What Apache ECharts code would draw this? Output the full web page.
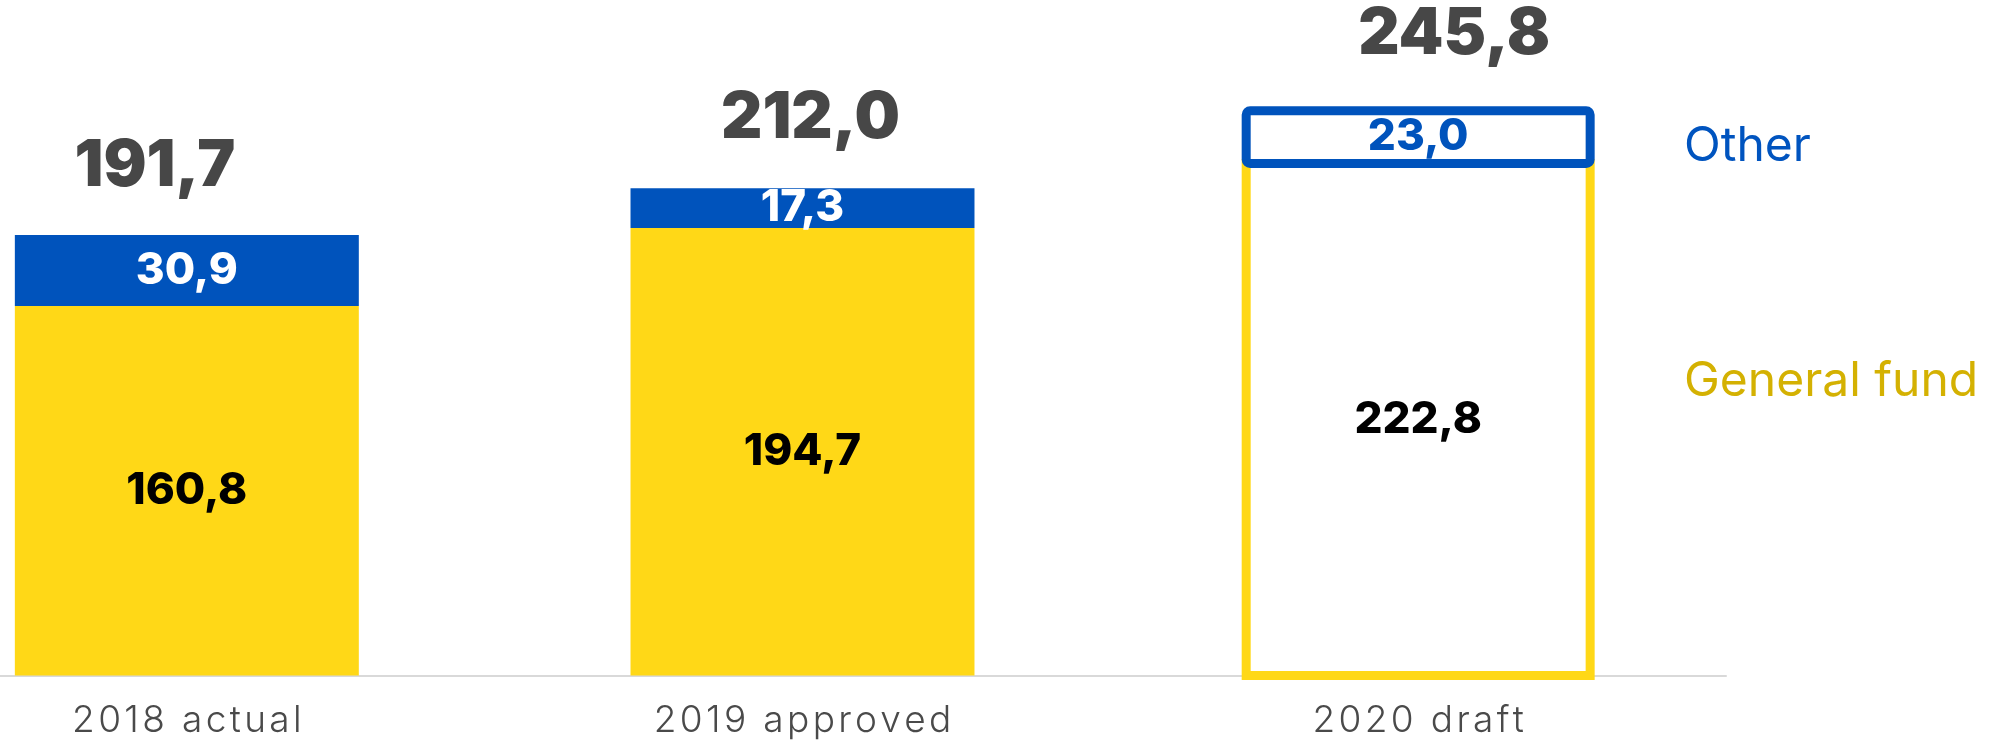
<!DOCTYPE html>
<html>
<head>
<meta charset="utf-8">
<title>Budget</title>
<script src="https://cdn.jsdelivr.net/npm/echarts@6/dist/echarts.min.js"></script>
<style>
  html, body { margin: 0; padding: 0; background: #fff; }
  #chart { width: 2006px; height: 748px; }
</style>
</head>
<body>
<div id="chart"></div>
<script>
  var categories = ['2018 actual', '2019 approved', '2020 draft'];
  var generalFund = [160.8, 194.7, 222.8];
  var other = [30.9, 17.3, 23.0];
  var totals = [191.7, 212.0, 245.8];

  // the last column is a draft: drawn as outlines only
  var DRAFT = categories.length - 1;
  var BAR_RATIO = 0.5587;
  var YELLOW = '#FFD817';
  var BLUE = '#0053BC';
  var FONT = 'Inter, "Open Sans", sans-serif';

  // little nudges of the total labels, like in the original slide
  var totalShiftX = [-32, 8, 36];
  var totalLift = [68, 70, 76];

  function fmt(v) {
    return v.toFixed(1).replace('.', ',');
  }

  var fundData = [], otherData = [], totalData = [];
  for (var i = 0; i < categories.length; i++) {
    fundData.push([i, 0, generalFund[i]]);
    otherData.push([i, generalFund[i], generalFund[i] + other[i]]);
    totalData.push([i, totals[i]]);
  }

  function segment(color, labelColor, draftLabelColor, radius) {
    return function (params, api) {
      var idx = params.dataIndex;
      var p0 = api.coord([idx, api.value(1)]);
      var p1 = api.coord([idx, api.value(2)]);
      var w = api.size([1, 0])[0] * BAR_RATIO;
      var draft = idx === DRAFT;
      return {
        type: 'rect',
        shape: {x: p0[0] - w / 2, y: p1[1], width: w, height: p0[1] - p1[1], r: draft ? radius : 0},
        style: {
          fill: draft ? '#fff' : color,
          stroke: draft ? color : null,
          lineWidth: draft ? 9 : 0
        },
        textContent: {
          style: {
            text: fmt(api.value(2) - api.value(1)),
            fill: draft ? draftLabelColor : labelColor,
            fontSize: 44,
            fontWeight: 800,
            fontFamily: FONT
          }
        },
        textConfig: {position: 'inside'}
      };
    };
  }

  var myChart = echarts.init(document.getElementById('chart'));
  var option = {
    animation: false,
    backgroundColor: '#fff',
    grid: {left: -121, right: 280, top: 101, bottom: 72.5, outerBoundsMode: 'none', containLabel: false},
    legend: {
      orient: 'vertical',
      left: 1674,
      top: 118,
      itemWidth: 0,
      itemHeight: 0,
      itemGap: 187,
      icon: 'rect',
      selectedMode: false,
      textStyle: {fontSize: 48, fontFamily: FONT, fontWeight: 400},
      data: [
        {name: 'Other', textStyle: {color: '#0054BF'}},
        {name: 'General fund', textStyle: {color: '#D4B102'}}
      ]
    },
    xAxis: {
      type: 'category',
      data: categories,
      axisLine: {lineStyle: {color: '#d9d9d9', width: 2}},
      axisTick: {show: false},
      axisLabel: {
        margin: 27,
        fontSize: 37,
        fontWeight: 300,
        fontFamily: FONT,
        color: '#4a4a4a',
        formatter: function (v) {
          return v.split('').join('\u200A');
        }
      }
    },
    yAxis: {type: 'value', min: 0, max: 250, show: false},
    series: [
      {
        name: 'General fund',
        type: 'custom',
        color: YELLOW,
        renderItem: segment(YELLOW, '#000', '#000', 0),
        encode: {x: 0, y: [1, 2]},
        data: fundData,
        z: 2
      },
      {
        name: 'Other',
        type: 'custom',
        color: BLUE,
        renderItem: segment(BLUE, '#fff', BLUE, 4),
        encode: {x: 0, y: [1, 2]},
        data: otherData,
        z: 3
      },
      {
        name: 'Total',
        type: 'custom',
        renderItem: function (params, api) {
          var idx = params.dataIndex;
          var p = api.coord([idx, api.value(1)]);
          return {
            type: 'text',
            x: p[0] + totalShiftX[idx],
            y: p[1] - totalLift[idx],
            style: {
              text: fmt(api.value(1)),
              fill: '#474747',
              fontSize: 64,
              fontWeight: 900,
              fontFamily: FONT,
              align: 'center',
              verticalAlign: 'middle'
            }
          };
        },
        encode: {x: 0, y: 1},
        data: totalData,
        z: 4
      }
    ]
  };
  myChart.setOption(option);
</script>
</body>
</html>
